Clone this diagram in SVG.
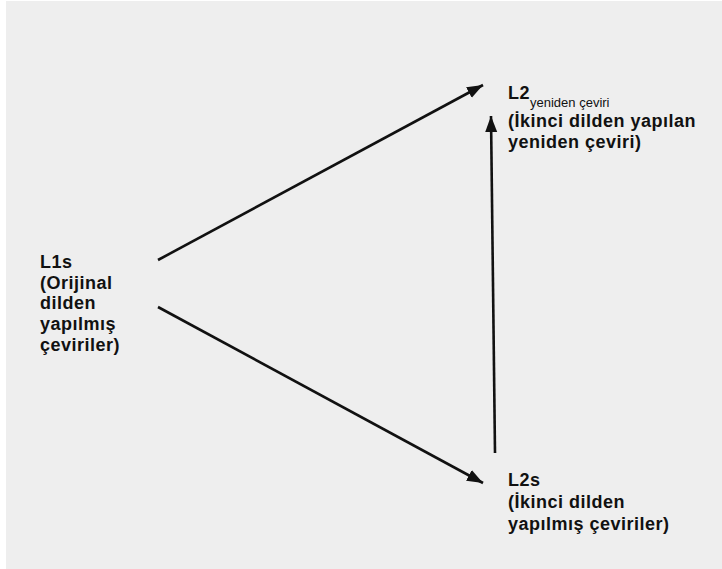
<svg xmlns="http://www.w3.org/2000/svg" width="722" height="569" viewBox="0 0 722 569">
<defs>
<style>
.t{font-family:"Liberation Sans",Arial,sans-serif;font-weight:bold;font-size:18px;letter-spacing:0.5px;fill:#111;}
.sub{font-family:"Liberation Sans",Arial,sans-serif;font-weight:normal;font-size:13px;letter-spacing:0;fill:#111;}
.c{stroke:#111;stroke-width:2.6;fill:none;marker-end:url(#ah);}
</style>
<marker id="ah" markerUnits="userSpaceOnUse" markerWidth="20" markerHeight="16" refX="16" refY="6" orient="auto" viewBox="0 0 20 16">
<path d="M0,0 L16,6 L0,12 Z" fill="#111"/>
</marker>
</defs>
<rect x="0" y="0" width="722" height="569" fill="#ffffff"/>
<rect x="6" y="1" width="716" height="568" fill="#eeeeee"/>
<g id="connectors">
<line class="c" x1="158" y1="260" x2="483" y2="85"/>
<line class="c" x1="158" y1="307" x2="483" y2="483"/>
<line class="c" x1="495" y1="453" x2="491" y2="116"/>
</g>
<g id="L1s">
<text class="t" x="40" y="268">L1s</text>
<text class="t" x="40" y="289">(Orijinal</text>
<text class="t" x="40" y="309">dilden</text>
<text class="t" x="40" y="330">yapılmış</text>
<text class="t" x="40" y="351">çeviriler)</text>
</g>
<g id="L2yeniden">
<text class="t" x="508" y="99">L2<tspan class="sub" dy="8">yeniden çeviri</tspan></text>
<text class="t" x="508" y="127">(İkinci dilden yapılan</text>
<text class="t" x="508" y="148">yeniden çeviri)</text>
</g>
<g id="L2s">
<text class="t" x="508" y="486">L2s</text>
<text class="t" x="508" y="508">(İkinci dilden</text>
<text class="t" x="508" y="530">yapılmış çeviriler)</text>
</g>
</svg>
